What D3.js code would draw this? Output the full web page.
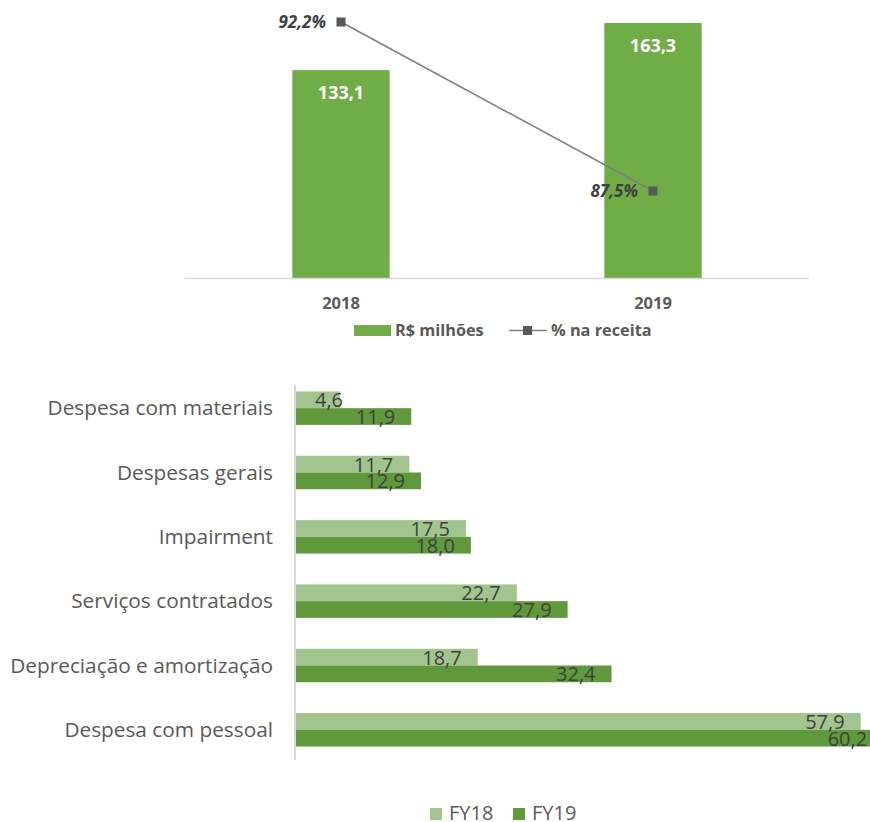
<!DOCTYPE html>
<html>
<head>
<meta charset="utf-8">
<script src="https://cdn.jsdelivr.net/npm/d3@7"></script>
<style>
  body { margin: 0; background: #fff; }
  svg { display: block; font-family: "Open Sans", sans-serif; }
</style>
</head>
<body>
<svg id="chart" width="870" height="822"></svg>
<script>
// top chart data
const years = ["2018", "2019"];
const receita = [133.1, 163.3];        // R$ milhões
const pctReceita = [92.2, 87.5];       // % na receita

// bottom chart data
const categorias = [
  "Despesa com materiais",
  "Despesas gerais",
  "Impairment",
  "Serviços contratados",
  "Depreciação e amortização",
  "Despesa com pessoal"
];
const fy18 = [4.6, 11.7, 17.5, 22.7, 18.7, 57.9];
const fy19 = [11.9, 12.9, 18.0, 27.9, 32.4, 60.2];
const seriesNames = ["FY18", "FY19"];

const fmt = v => d3.format(".1f")(v).replace(".", ",");

const svg = d3.select("#chart");

// ---------- top: bars + line ----------
const x = d3.scaleBand()
    .domain(years)
    .range([185, 809])
    .paddingInner(0.688)
    .paddingOuter(0.344);

const y = d3.scaleLinear().domain([0, 178]).range([278, 0]);
const y2 = d3.scaleLinear().domain([87.5, 92.2]).range([191, 22]);

const topG = svg.append("g");

topG.selectAll("rect.bar")
  .data(years)
  .enter().append("rect")
    .attr("class", "bar")
    .attr("x", d => x(d))
    .attr("width", x.bandwidth())
    .attr("y", (d, i) => y(receita[i]))
    .attr("height", (d, i) => y(0) - y(receita[i]))
    .attr("fill", "#70ad47");

topG.append("line")
    .attr("x1", 185).attr("x2", 809)
    .attr("y1", y(0) + 0.5).attr("y2", y(0) + 0.5)
    .attr("stroke", "#d9d9d9").attr("stroke-width", 1.5);

topG.selectAll("text.barlbl")
  .data(years)
  .enter().append("text")
    .attr("x", d => x(d) + x.bandwidth() / 2)
    .attr("y", (d, i) => y(receita[i]) + 29)
    .attr("text-anchor", "middle")
    .attr("fill", "#fff")
    .style("font-weight", "bold")
    .style("font-size", "18px")
    .text((d, i) => fmt(receita[i]));

const cx = d => x(d) + x.bandwidth() / 2;

const line = d3.line()
    .x(d => cx(d))
    .y((d, i) => y2(pctReceita[i]));

topG.append("path")
    .datum(years)
    .attr("d", line)
    .attr("fill", "none")
    .attr("stroke", "#7f7f7f")
    .attr("stroke-width", 1.5);

topG.selectAll("rect.mk")
  .data(years)
  .enter().append("rect")
    .attr("x", d => cx(d) - 4.5)
    .attr("y", (d, i) => y2(pctReceita[i]) - 4.5)
    .attr("width", 9).attr("height", 9)
    .attr("fill", "#595959");

topG.selectAll("text.pct")
  .data(years)
  .enter().append("text")
    .attr("x", d => cx(d) - 15)
    .attr("y", (d, i) => y2(pctReceita[i]) + 6)
    .attr("text-anchor", "end")
    .attr("fill", "#404040")
    .style("font-weight", "bold")
    .style("font-style", "italic")
    .style("font-size", "17px")
    .text((d, i) => fmt(pctReceita[i]) + "%");

topG.selectAll("text.year")
  .data(years)
  .enter().append("text")
    .attr("x", d => cx(d))
    .attr("y", 309)
    .attr("text-anchor", "middle")
    .attr("fill", "#595959")
    .style("font-weight", "bold")
    .style("font-size", "16.5px")
    .text(d => d);

// top legend
const lg1 = topG.append("g").style("font-weight", "bold").style("font-size", "16.3px").attr("fill", "#595959");
lg1.append("rect").attr("x", 354).attr("y", 325).attr("width", 37).attr("height", 11).attr("fill", "#70ad47");
lg1.append("text").attr("x", 395).attr("y", 336).text("R$ milhões");
lg1.append("line").attr("x1", 509).attr("x2", 547).attr("y1", 330.5).attr("y2", 330.5)
    .attr("stroke", "#7f7f7f").attr("stroke-width", 1.5);
lg1.append("rect").attr("x", 523).attr("y", 326).attr("width", 9).attr("height", 9).attr("fill", "#595959");
lg1.append("text").attr("x", 551).attr("y", 336).text("% na receita");

// ---------- bottom: horizontal grouped bars ----------
const yb = d3.scaleBand().domain(categorias).range([376, 762]).paddingInner(0.48).paddingOuter(0.24);
const ys = d3.scaleBand().domain(seriesNames).range([0, yb.bandwidth()]);
const xb = d3.scaleLinear().domain([0, 60]).range([295, 881.2]);

const bottom = svg.append("g");
const colors = { FY18: "#a2c58f", FY19: "#5f993b" };
const rows = categorias.map((c, i) => ({ cat: c, FY18: fy18[i], FY19: fy19[i] }));

const grp = bottom.selectAll("g.grp")
  .data(rows)
  .enter().append("g")
    .attr("transform", d => `translate(0,${yb(d.cat)})`);

grp.selectAll("rect")
  .data(d => seriesNames.map(s => ({ s, v: d[s] })))
  .enter().append("rect")
    .attr("x", xb(0))
    .attr("y", d => ys(d.s))
    .attr("width", d => xb(d.v) - xb(0))
    .attr("height", ys.bandwidth())
    .attr("fill", d => colors[d.s]);

grp.selectAll("text")
  .data(d => seriesNames.map(s => ({ s, v: d[s] })))
  .enter().append("text")
    .attr("y", d => ys(d.s) + ys.bandwidth() - 1)
    .attr("fill", "#404040")
    .style("font-size", "20px")
    .text(d => fmt(d.v))
    .each(function(d) {
        const w = this.getComputedTextLength();
        const start = Math.max(xb(d.v) - 16 - w, xb(0) + 20);
        d3.select(this).attr("x", start);
    });

bottom.append("line")
    .attr("x1", xb(0)).attr("x2", xb(0))
    .attr("y1", 385).attr("y2", 760)
    .attr("stroke", "#d9d9d9").attr("stroke-width", 2);

bottom.selectAll("text.cat")
  .data(categorias)
  .enter().append("text")
    .attr("class", "cat")
    .attr("x", 273)
    .attr("y", d => yb(d) + yb.bandwidth() / 2 + 7)
    .attr("text-anchor", "end")
    .attr("fill", "#595959")
    .style("font-size", "20.8px")
    .text(d => d);

// bottom legend
const lg2 = bottom.append("g").style("font-size", "20px").attr("fill", "#595959");
const lgX = { FY18: 430, FY19: 513 };
seriesNames.forEach(s => {
    lg2.append("rect").attr("x", lgX[s]).attr("y", 808).attr("width", 12).attr("height", 12).attr("fill", colors[s]);
    lg2.append("text").attr("x", lgX[s] + 19).attr("y", 820).text(s);
});
</script>
</body>
</html>
